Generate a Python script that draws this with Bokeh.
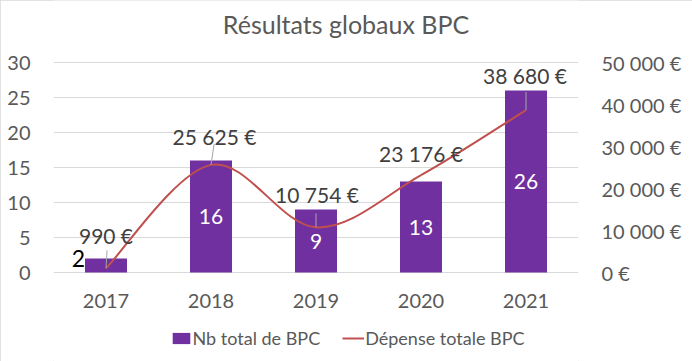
from bokeh.plotting import figure
from bokeh.models import (Range1d, LinearAxis, FixedTicker, Legend, LegendItem,
                          ColumnDataSource)
from bokeh.core.properties import value
from bokeh.embed import file_html
from bokeh.resources import INLINE

# ---------------- data ----------------
years = ["2017", "2018", "2019", "2020", "2021"]
nb_bpc = [2, 16, 9, 13, 26]
depense = [990, 25625, 10754, 23176, 38680]
depense_labels = ["990 €", "25 625 €", "10 754 €", "23 176 €", "38 680 €"]
left_ticks = [0, 5, 10, 15, 20, 25, 30]
right_ticks = [0, 10000, 20000, 30000, 40000, 50000]
right_tick_labels = ["0 €", "10 000 €", "20 000 €", "30 000 €", "40 000 €", "50 000 €"]
title_text = "Résultats globaux BPC"

# ---------------- style / layout ----------------
FONT = "Lato"
GREY_TXT = "#595959"
LABEL_TXT = "#404040"
PURPLE = "#7030A0"
RED = "#C0504D"
GRID = "#D9D9D9"
W, H = 692, 361
PLOT_TOP_PX, PLOT_BOTTOM_PX = 62, 272          # pixel rows of 30 and 0
PX_PER_UNIT = (PLOT_BOTTOM_PX - PLOT_TOP_PX) / left_ticks[-1]
Y0 = -(H - PLOT_BOTTOM_PX) / PX_PER_UNIT       # frame spans the full height
Y1 = left_ticks[-1] + PLOT_TOP_PX / PX_PER_UNIT
EUR_MAX = right_ticks[-1]
EUR_PER_UNIT = EUR_MAX / left_ticks[-1]
EUR_PER_PX = EUR_PER_UNIT / PX_PER_UNIT
TXT_SHIFT = -9                                  # baseline correction (px)

xs = list(range(1, len(years) + 1))

p = figure(width=W, height=H, output_backend="svg", toolbar_location=None,
           x_axis_location=None,
           x_range=Range1d(0.5, len(years) + 0.5), y_range=Range1d(Y0, Y1),
           min_border_left=53, min_border_right=114, min_border_top=0,
           min_border_bottom=0)
p.extra_y_ranges = {"eur": Range1d(Y0 * EUR_PER_UNIT, Y1 * EUR_PER_UNIT)}
p.outline_line_color = None
p.background_fill_color = "white"
p.border_fill_color = "white"
p.styles = {"outline": "1px solid #D9D9D9", "outline-offset": "-1px"}

# axes
def style_axis(ax):
    ax.axis_line_color = None
    ax.major_tick_line_color = None
    ax.minor_tick_line_color = None
    ax.major_tick_out = 0
    ax.major_tick_in = 0
    ax.major_label_text_font = FONT
    ax.major_label_text_font_size = "20px"
    ax.major_label_text_color = GREY_TXT

p.yaxis.ticker = FixedTicker(ticks=left_ticks)
style_axis(p.yaxis[0])
p.yaxis.major_label_standoff = 23

raxis = LinearAxis(y_range_name="eur", ticker=FixedTicker(ticks=right_ticks),
                   major_label_overrides={t: l for t, l in zip(right_ticks, right_tick_labels)})
style_axis(raxis)
raxis.major_label_standoff = 23
p.add_layout(raxis, "right")

p.xgrid.visible = False
p.ygrid.ticker = FixedTicker(ticks=left_ticks)
p.ygrid.grid_line_color = GRID
p.ygrid.grid_line_width = 1

# title (centered on the chart)
p.text(x=[(xs[0] + xs[-1]) / 2], y=[Y1], text=[title_text], x_offset=30,
       y_offset=33 + TXT_SHIFT - 1,
       text_align="center", text_baseline="alphabetic", text_font=value(FONT),
       text_font_size="25px", text_color=GREY_TXT)

# category labels under the 0 line
p.text(x=xs, y=[0] * len(xs), text=years, y_offset=37 + TXT_SHIFT,
       text_align="center", text_baseline="alphabetic", text_font=value(FONT),
       text_font_size="20px", text_color=GREY_TXT)

# bars
bars = p.vbar(x=xs, top=nb_bpc, width=0.4, fill_color=PURPLE, line_color=None)

# smoothed line (Excel-like bezier smoothing through the points)
P = list(zip(xs, depense))
bz = dict(x0=[], y0=[], x1=[], y1=[], cx0=[], cy0=[], cx1=[], cy1=[])
n = len(P)
for i in range(n - 1):
    pm = P[max(i - 1, 0)]
    p0 = P[i]
    p1 = P[i + 1]
    p2 = P[min(i + 2, n - 1)]
    bz["x0"].append(p0[0]); bz["y0"].append(p0[1])
    bz["x1"].append(p1[0]); bz["y1"].append(p1[1])
    bz["cx0"].append(p0[0] + (p1[0] - pm[0]) / 6)
    bz["cy0"].append(p0[1] + (p1[1] - pm[1]) / 6)
    bz["cx1"].append(p1[0] - (p2[0] - p0[0]) / 6)
    bz["cy1"].append(p1[1] - (p2[1] - p0[1]) / 6)
line = p.bezier(source=ColumnDataSource(bz), x0="x0", y0="y0", x1="x1", y1="y1",
                cx0="cx0", cy0="cy0", cx1="cx1", cy1="cy1",
                line_color=RED, line_width=2, y_range_name="eur")

# leader lines (pixel lengths, styling)
leader_px = [18, 21, 14, 0, 18]
leader_dx = [0.01, 0.03, 0.0, 0.0, 0.0]
lx0, ly0, lx1, ly1 = [], [], [], []
for x, d, lp, dx in zip(xs, depense, leader_px, leader_dx):
    if lp:
        lx0.append(x); ly0.append(d)
        lx1.append(x + dx); ly1.append(d + lp * EUR_PER_PX)
p.segment(x0=lx0, y0=ly0, x1=lx1, y1=ly1, line_color="#A6A6A6", line_width=1,
          y_range_name="eur")

# line data labels
lab_dx = [0, 3.5, 1, 0, -1]
lab_dy = [d + TXT_SHIFT for d in [-24, -19.5, -24, -13, -26]]
p.text(source=ColumnDataSource(dict(x=xs, y=depense, t=depense_labels, dx=lab_dx, dy=lab_dy)),
       x="x", y="y", text="t", x_offset="dx", y_offset="dy", y_range_name="eur",
       text_align="center", text_baseline="alphabetic", text_font=value(FONT),
       text_font_size="21px", text_color=LABEL_TXT)

# bar data labels (inside, white) - all but first
mid = [v / 2 for v in nb_bpc]
p.text(x=xs[1:], y=mid[1:], text=[str(v) for v in nb_bpc[1:]], y_offset=9 + TXT_SHIFT,
       text_align="center", text_baseline="alphabetic", text_font=value(FONT),
       text_font_size="21px", text_color="white")
# first bar label placed left of the bar, black
p.text(x=xs[:1], y=mid[:1], text=[str(v) for v in nb_bpc[:1]], x_offset=-21,
       y_offset=2 + TXT_SHIFT,
       text_align="right", text_baseline="alphabetic", text_font=value(FONT),
       text_font_size="23px", text_color="black")

# legend (inside the full-height frame, under the category labels)
leg = Legend(items=[LegendItem(label="Nb total de BPC", renderers=[bars]),
                    LegendItem(label="Dépense totale BPC", renderers=[line])],
             location=(116.5, 12.5), orientation="horizontal", padding=0, margin=0,
             spacing=22, border_line_color=None, background_fill_alpha=0,
             label_text_font=FONT, label_text_font_size="18px",
             label_text_color=GREY_TXT, label_height=14, glyph_height=14,
             glyph_width=22, label_standoff=1)
p.add_layout(leg, "center")

open("out.html", "w").write(file_html(p, INLINE))
